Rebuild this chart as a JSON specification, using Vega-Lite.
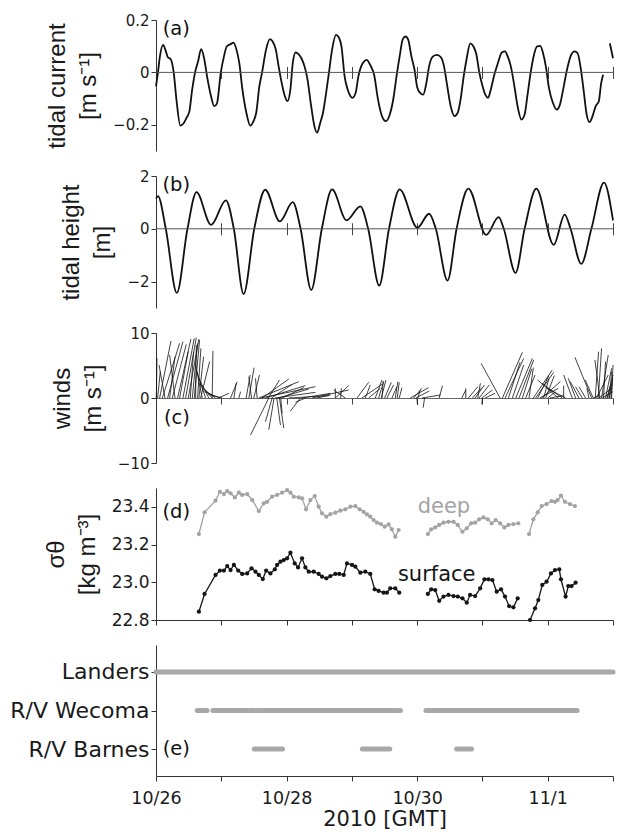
{
  "$schema": "https://vega.github.io/schema/vega-lite/v6.json",
  "background": "white",
  "padding": {"left": 9, "top": 13, "right": 2, "bottom": 2},
  "bounds": "flush",
  "spacing": 25,
  "resolve": {"scale": {"x": "independent"}},
  "config": {
    "view": {"stroke": null},
    "font": "DejaVu Sans",
    "axis": {
      "grid": false,
      "domainColor": "#333",
      "tickColor": "#333",
      "labelColor": "#1a1a1a",
      "titleColor": "#1a1a1a",
      "labelFont": "DejaVu Sans",
      "labelFontSize": 15,
      "labelOverlap": false,
      "titleFont": "Liberation Sans",
      "titleFontSize": 24,
      "titleFontWeight": "normal",
      "titleLineHeight": 31,
      "titlePadding": 12,
      "tickSize": 5,
      "labelPadding": 2
    },
    "text": {"font": "DejaVu Sans"}
  },
  "datasets": {
    "current": [
      {"day":0,"u":-0.053,"seg":1},{"day":0.03,"u":0,"seg":1},{"day":0.06,"u":0.061,"seg":1},{"day":0.108,"u":0.105,"seg":1},{"day":0.144,"u":0.086,"seg":1},{"day":0.181,"u":0.058,"seg":1},{"day":0.223,"u":0.051,"seg":1},{"day":0.271,"u":0,"seg":1},{"day":0.313,"u":-0.104,"seg":1},{"day":0.373,"u":-0.203,"seg":1},{"day":0.421,"u":-0.195,"seg":1},{"day":0.469,"u":-0.173,"seg":1},{"day":0.512,"u":-0.148,"seg":1},{"day":0.554,"u":-0.066,"seg":1},{"day":0.602,"u":0.004,"seg":1},{"day":0.644,"u":0.042,"seg":1},{"day":0.692,"u":0.089,"seg":1},{"day":0.734,"u":0.058,"seg":1},{"day":0.782,"u":-0.015,"seg":1},{"day":0.843,"u":-0.091,"seg":1},{"day":0.891,"u":-0.129,"seg":1},{"day":0.933,"u":-0.119,"seg":1},{"day":0.993,"u":0,"seg":1},{"day":1.041,"u":0.061,"seg":1},{"day":1.083,"u":0.099,"seg":1},{"day":1.144,"u":0.108,"seg":1},{"day":1.186,"u":0.114,"seg":1},{"day":1.234,"u":0.086,"seg":1},{"day":1.276,"u":0.035,"seg":1},{"day":1.324,"u":-0.066,"seg":1},{"day":1.384,"u":-0.154,"seg":1},{"day":1.444,"u":-0.203,"seg":1},{"day":1.493,"u":-0.186,"seg":1},{"day":1.535,"u":-0.154,"seg":1},{"day":1.583,"u":-0.053,"seg":1},{"day":1.625,"u":0,"seg":1},{"day":1.685,"u":0.086,"seg":1},{"day":1.745,"u":0.127,"seg":1},{"day":1.787,"u":0.118,"seg":1},{"day":1.836,"u":0.086,"seg":1},{"day":1.878,"u":0.023,"seg":1},{"day":1.926,"u":-0.041,"seg":1},{"day":1.974,"u":-0.091,"seg":1},{"day":2.016,"u":-0.11,"seg":1},{"day":2.058,"u":-0.066,"seg":1},{"day":2.095,"u":0.035,"seg":1},{"day":2.137,"u":0.076,"seg":1},{"day":2.179,"u":0.071,"seg":1},{"day":2.227,"u":0.054,"seg":1},{"day":2.275,"u":0.023,"seg":1},{"day":2.317,"u":-0.022,"seg":1},{"day":2.377,"u":-0.129,"seg":1},{"day":2.426,"u":-0.205,"seg":1},{"day":2.468,"u":-0.23,"seg":1},{"day":2.516,"u":-0.192,"seg":1},{"day":2.558,"u":-0.154,"seg":1},{"day":2.606,"u":-0.078,"seg":1},{"day":2.648,"u":-0.003,"seg":1},{"day":2.697,"u":0.086,"seg":1},{"day":2.757,"u":0.143,"seg":1},{"day":2.799,"u":0.134,"seg":1},{"day":2.841,"u":0.099,"seg":1},{"day":2.889,"u":-0.015,"seg":1},{"day":2.937,"u":-0.066,"seg":1},{"day":2.979,"u":-0.091,"seg":1},{"day":3.01,"u":-0.097,"seg":1},{"day":3.058,"u":-0.078,"seg":1},{"day":3.1,"u":-0.015,"seg":1},{"day":3.142,"u":0.023,"seg":1},{"day":3.19,"u":0.042,"seg":1},{"day":3.226,"u":0.048,"seg":1},{"day":3.28,"u":0.029,"seg":1},{"day":3.341,"u":-0.009,"seg":1},{"day":3.401,"u":-0.104,"seg":1},{"day":3.461,"u":-0.167,"seg":1},{"day":3.521,"u":-0.186,"seg":1},{"day":3.581,"u":-0.161,"seg":1},{"day":3.642,"u":-0.091,"seg":1},{"day":3.684,"u":-0.015,"seg":1},{"day":3.732,"u":0.061,"seg":1},{"day":3.78,"u":0.127,"seg":1},{"day":3.822,"u":0.137,"seg":1},{"day":3.864,"u":0.124,"seg":1},{"day":3.912,"u":0.061,"seg":1},{"day":3.96,"u":0.01,"seg":1},{"day":4.003,"u":-0.059,"seg":1},{"day":4.045,"u":-0.078,"seg":1},{"day":4.093,"u":-0.085,"seg":1},{"day":4.141,"u":-0.041,"seg":1},{"day":4.183,"u":0.023,"seg":1},{"day":4.243,"u":0.061,"seg":1},{"day":4.304,"u":0.067,"seg":1},{"day":4.364,"u":0.058,"seg":1},{"day":4.412,"u":0.023,"seg":1},{"day":4.454,"u":-0.041,"seg":1},{"day":4.514,"u":-0.129,"seg":1},{"day":4.574,"u":-0.167,"seg":1},{"day":4.622,"u":-0.154,"seg":1},{"day":4.665,"u":-0.104,"seg":1},{"day":4.713,"u":-0.015,"seg":1},{"day":4.755,"u":0.048,"seg":1},{"day":4.815,"u":0.111,"seg":1},{"day":4.863,"u":0.099,"seg":1},{"day":4.905,"u":0.071,"seg":1},{"day":4.954,"u":-0.003,"seg":1},{"day":4.996,"u":-0.047,"seg":1},{"day":5.044,"u":-0.085,"seg":1},{"day":5.086,"u":-0.097,"seg":1},{"day":5.128,"u":-0.066,"seg":1},{"day":5.176,"u":-0.015,"seg":1},{"day":5.236,"u":0.035,"seg":1},{"day":5.297,"u":0.076,"seg":1},{"day":5.345,"u":0.08,"seg":1},{"day":5.387,"u":0.061,"seg":1},{"day":5.435,"u":0.023,"seg":1},{"day":5.49,"u":-0.053,"seg":1},{"day":5.538,"u":-0.129,"seg":1},{"day":5.598,"u":-0.18,"seg":1},{"day":5.646,"u":-0.161,"seg":1},{"day":5.688,"u":-0.091,"seg":1},{"day":5.73,"u":-0.015,"seg":1},{"day":5.778,"u":0.054,"seg":1},{"day":5.838,"u":0.099,"seg":1},{"day":5.886,"u":0.101,"seg":1},{"day":5.929,"u":0.073,"seg":1},{"day":5.971,"u":0.023,"seg":1},{"day":6.019,"u":-0.059,"seg":1},{"day":6.079,"u":-0.116,"seg":1},{"day":6.139,"u":-0.142,"seg":1},{"day":6.187,"u":-0.123,"seg":1},{"day":6.236,"u":-0.066,"seg":1},{"day":6.29,"u":0.004,"seg":1},{"day":6.35,"u":0.061,"seg":1},{"day":6.41,"u":0.08,"seg":1},{"day":6.458,"u":0.073,"seg":1},{"day":6.501,"u":0.023,"seg":1},{"day":6.549,"u":-0.066,"seg":1},{"day":6.597,"u":-0.161,"seg":1},{"day":6.639,"u":-0.19,"seg":1},{"day":6.687,"u":-0.167,"seg":1},{"day":6.735,"u":-0.129,"seg":1},{"day":6.783,"u":-0.11,"seg":1},{"day":6.819,"u":-0.041,"seg":1},{"day":6.849,"u":-0.009,"seg":1},
      {"day":6.952,"u":0.111,"seg":2},{"day":7.0,"u":0.054,"seg":2}
    ],
    "tide": [
      {"day":0,"h":1.14},{"day":0.03,"h":1.24},{"day":0.15,"h":0},{"day":0.319,"h":-2.43},{"day":0.482,"h":0},{"day":0.62,"h":1.39},{"day":0.843,"h":0.15},{"day":1.071,"h":1.08},{"day":1.192,"h":0},{"day":1.342,"h":-2.47},{"day":1.505,"h":0},{"day":1.673,"h":1.48},{"day":1.896,"h":0.28},{"day":2.095,"h":1.01},{"day":2.215,"h":0},{"day":2.378,"h":-2.32},{"day":2.54,"h":0},{"day":2.697,"h":1.49},{"day":2.919,"h":0.32},{"day":3.13,"h":0.85},{"day":3.25,"h":0},{"day":3.419,"h":-2.15},{"day":3.569,"h":0},{"day":3.732,"h":1.49},{"day":4.003,"h":0.04},{"day":4.183,"h":0.57},{"day":4.286,"h":0},{"day":4.466,"h":-1.96},{"day":4.604,"h":0},{"day":4.785,"h":1.52},{"day":5.056,"h":-0.23},{"day":5.249,"h":0.44},{"day":5.327,"h":0},{"day":5.507,"h":-1.67},{"day":5.646,"h":0},{"day":5.826,"h":1.52},{"day":6.091,"h":-0.61},{"day":6.26,"h":0.54},{"day":6.35,"h":0},{"day":6.514,"h":-1.33},{"day":6.669,"h":0},{"day":6.862,"h":1.75},{"day":7.0,"h":0.32}
    ],
    "wind": [
      {"t":0.005,"t2":0.015,"w":6.1},{"t":0.025,"t2":0.066,"w":4.05},{"t":0.056,"t2":0.229,"w":8.77},{"t":0.097,"t2":0.362,"w":8.41},{"t":0.138,"t2":0.046,"w":5.08},{"t":0.178,"t2":0.413,"w":8.67},{"t":0.209,"t2":0.291,"w":6.36},{"t":0.25,"t2":0.464,"w":8.26},{"t":0.291,"t2":0.209,"w":6.62},{"t":0.331,"t2":0.535,"w":9.08},{"t":0.362,"t2":0.494,"w":7.13},{"t":0.413,"t2":0.586,"w":9.18},{"t":0.454,"t2":0.617,"w":9.28},{"t":0.494,"t2":0.657,"w":9.08},{"t":0.525,"t2":0.576,"w":7.13},{"t":0.556,"t2":0.637,"w":8.41},{"t":0.586,"t2":0.668,"w":8.92},{"t":0.607,"t2":0.617,"w":8.15},{"t":0.637,"t2":0.688,"w":7.64},{"t":0.657,"t2":0.729,"w":6.36},{"t":0.683,"t2":0.821,"w":5.59},{"t":0.861,"t2":0.872,"w":7.23},{"t":0.708,"t2":0.607,"w":5.08},{"t":0.759,"t2":0.627,"w":4.05},{"t":0.81,"t2":0.647,"w":3.13},{"t":0.861,"t2":0.668,"w":2.26},{"t":0.912,"t2":0.698,"w":1.59},{"t":0.974,"t2":0.739,"w":0.97},{"t":1.014,"t2":0.8,"w":0.56},{"t":0.953,"t2":1.116,"w":0.72},{"t":1.142,"t2":1.244,"w":2.51},{"t":1.193,"t2":1.228,"w":2.26},{"t":1.269,"t2":1.295,"w":0.97},{"t":1.381,"t2":1.442,"w":3.54},{"t":1.422,"t2":1.503,"w":4.67},{"t":1.463,"t2":1.422,"w":3.28},{"t":1.498,"t2":1.585,"w":3.54},{"t":1.549,"t2":1.524,"w":3.03},{"t":1.575,"t2":2.187,"w":2.51},{"t":1.6,"t2":2.441,"w":1.74},{"t":1.626,"t2":2.034,"w":2.92},{"t":1.677,"t2":2.288,"w":1.9},{"t":1.718,"t2":1.891,"w":2.77},{"t":1.769,"t2":2.085,"w":2.1},{"t":1.82,"t2":2.441,"w":0.87},{"t":1.871,"t2":2.339,"w":1.38},{"t":1.932,"t2":2.263,"w":1.59},{"t":2.034,"t2":2.645,"w":0.36},{"t":1.728,"t2":1.448,"w":-5.69},{"t":1.779,"t2":1.677,"w":-3.64},{"t":1.809,"t2":1.728,"w":-4.87},{"t":1.891,"t2":1.957,"w":-4.62},{"t":1.911,"t2":1.932,"w":-2.36},{"t":1.85,"t2":1.906,"w":-4.15},{"t":2.212,"t2":2.059,"w":-2.0},{"t":2.288,"t2":2.136,"w":-0.67},{"t":2.238,"t2":2.671,"w":0.72},{"t":2.39,"t2":2.951,"w":1.23},{"t":2.467,"t2":2.671,"w":0.46},{"t":2.747,"t2":2.951,"w":1.9},{"t":2.747,"t2":2.747,"w":1.49},{"t":2.829,"t2":2.839,"w":1.49},{"t":2.9,"t2":2.722,"w":1.23},{"t":3.078,"t2":3.257,"w":2.41},{"t":3.155,"t2":3.461,"w":2.1},{"t":3.257,"t2":3.435,"w":1.49},{"t":3.359,"t2":3.461,"w":2.77},{"t":3.41,"t2":3.486,"w":2.51},{"t":3.461,"t2":3.481,"w":2.62},{"t":3.206,"t2":3.282,"w":2.0},
      {"t":3.451,"t2":3.522,"w":2.77},{"t":3.502,"t2":3.603,"w":2.41},{"t":3.537,"t2":3.639,"w":2.0},{"t":3.614,"t2":3.69,"w":1.74},{"t":3.665,"t2":3.705,"w":2.51},{"t":3.695,"t2":3.726,"w":2.41},{"t":3.726,"t2":3.767,"w":1.59},{"t":3.894,"t2":4.174,"w":1.59},{"t":3.945,"t2":4.072,"w":1.49},{"t":3.981,"t2":4.185,"w":1.08},{"t":4.011,"t2":4.047,"w":1.23},{"t":4.072,"t2":4.358,"w":0.46},{"t":4.337,"t2":4.388,"w":1.9},{"t":3.996,"t2":4.006,"w":-1.08},{"t":4.113,"t2":4.093,"w":-1.49},{"t":4.684,"t2":4.745,"w":1.23},{"t":4.745,"t2":4.745,"w":1.49},{"t":4.786,"t2":4.929,"w":1.74},{"t":4.847,"t2":4.99,"w":1.59},{"t":4.888,"t2":5.031,"w":2.0},{"t":4.929,"t2":4.969,"w":2.26},{"t":4.949,"t2":5.102,"w":2.0},{"t":4.99,"t2":5.153,"w":1.23},{"t":5.0,"t2":4.99,"w":-0.97},{"t":5.041,"t2":5.194,"w":0.72},{"t":5.27,"t2":4.98,"w":5.33},{"t":5.306,"t2":5.612,"w":7.03},{"t":5.347,"t2":5.632,"w":6.1},{"t":5.398,"t2":5.576,"w":5.49},{"t":5.459,"t2":5.632,"w":5.08},{"t":5.51,"t2":5.765,"w":6.1},{"t":5.561,"t2":5.785,"w":5.85},{"t":5.612,"t2":5.754,"w":4.46},{"t":5.663,"t2":5.806,"w":3.54},{"t":5.714,"t2":5.78,"w":4.67},{"t":5.78,"t2":6.07,"w":4.31},{"t":5.815,"t2":6.091,"w":3.95},{"t":5.846,"t2":6.019,"w":3.44},{"t":5.877,"t2":6.162,"w":1.49},{"t":5.907,"t2":6.193,"w":2.51},{"t":5.938,"t2":6.019,"w":3.03},{"t":5.968,"t2":6.101,"w":3.44},{"t":5.999,"t2":6.121,"w":0.97},{"t":6.03,"t2":6.244,"w":0.36},{"t":6.162,"t2":5.846,"w":2.77},{"t":6.223,"t2":5.907,"w":2.26},{"t":6.274,"t2":5.989,"w":1.49},{"t":6.244,"t2":6.244,"w":1.9},{"t":6.376,"t2":6.244,"w":3.54},{"t":6.427,"t2":6.315,"w":3.03},{"t":6.478,"t2":6.346,"w":2.51},{"t":6.529,"t2":6.427,"w":1.74},{"t":6.672,"t2":6.417,"w":6.26},{"t":6.58,"t2":6.478,"w":1.74},{"t":6.631,"t2":6.6,"w":1.49},{"t":6.728,"t2":6.779,"w":7.13},{"t":6.774,"t2":6.825,"w":7.64},{"t":6.799,"t2":6.723,"w":5.85},{"t":6.825,"t2":6.927,"w":6.62},{"t":6.855,"t2":6.886,"w":5.59},{"t":6.886,"t2":6.978,"w":4.56},{"t":6.907,"t2":7.0,"w":3.54},{"t":6.937,"t2":6.998,"w":3.03},{"t":6.968,"t2":6.988,"w":2.41},{"t":6.978,"t2":7.0,"w":5.08},{"t":6.748,"t2":6.927,"w":3.54},{"t":6.784,"t2":6.978,"w":1.49},{"t":6.835,"t2":6.998,"w":0.97},{"t":6.702,"t2":6.784,"w":0.46},{"t":6.917,"t2":6.957,"w":1.74},{"t":6.948,"t2":6.978,"w":4.05},{"t":6.697,"t2":6.575,"w":2.77}
    ],
    "sigma": [
      {"day":0.657,"s":23.256,"depth":"deep","seg":1},{"day":0.744,"s":23.371,"depth":"deep","seg":1},{"day":0.912,"s":23.433,"depth":"deep","seg":1},{"day":0.979,"s":23.48,"depth":"deep","seg":1},{"day":1.04,"s":23.468,"depth":"deep","seg":1},{"day":1.091,"s":23.484,"depth":"deep","seg":1},{"day":1.142,"s":23.472,"depth":"deep","seg":1},{"day":1.208,"s":23.45,"depth":"deep","seg":1},{"day":1.269,"s":23.475,"depth":"deep","seg":1},{"day":1.32,"s":23.463,"depth":"deep","seg":1},{"day":1.396,"s":23.468,"depth":"deep","seg":1},{"day":1.473,"s":23.436,"depth":"deep","seg":1},{"day":1.575,"s":23.378,"depth":"deep","seg":1},{"day":1.651,"s":23.419,"depth":"deep","seg":1},{"day":1.702,"s":23.427,"depth":"deep","seg":1},{"day":1.779,"s":23.454,"depth":"deep","seg":1},{"day":1.855,"s":23.463,"depth":"deep","seg":1},{"day":1.932,"s":23.475,"depth":"deep","seg":1},{"day":2.008,"s":23.489,"depth":"deep","seg":1},{"day":2.059,"s":23.475,"depth":"deep","seg":1},{"day":2.11,"s":23.454,"depth":"deep","seg":1},{"day":2.187,"s":23.45,"depth":"deep","seg":1},{"day":2.237,"s":23.445,"depth":"deep","seg":1},{"day":2.298,"s":23.387,"depth":"deep","seg":1},{"day":2.365,"s":23.436,"depth":"deep","seg":1},{"day":2.431,"s":23.457,"depth":"deep","seg":1},{"day":2.492,"s":23.401,"depth":"deep","seg":1},{"day":2.543,"s":23.366,"depth":"deep","seg":1},{"day":2.61,"s":23.348,"depth":"deep","seg":1},{"day":2.671,"s":23.362,"depth":"deep","seg":1},{"day":2.747,"s":23.369,"depth":"deep","seg":1},{"day":2.824,"s":23.38,"depth":"deep","seg":1},{"day":2.9,"s":23.387,"depth":"deep","seg":1},{"day":2.977,"s":23.401,"depth":"deep","seg":1},{"day":3.053,"s":23.404,"depth":"deep","seg":1},{"day":3.119,"s":23.387,"depth":"deep","seg":1},{"day":3.18,"s":23.374,"depth":"deep","seg":1},{"day":3.231,"s":23.36,"depth":"deep","seg":1},{"day":3.282,"s":23.348,"depth":"deep","seg":1},{"day":3.333,"s":23.33,"depth":"deep","seg":1},{"day":3.384,"s":23.316,"depth":"deep","seg":1},{"day":3.445,"s":23.309,"depth":"deep","seg":1},{"day":3.502,"s":23.295,"depth":"deep","seg":1},{"day":3.563,"s":23.307,"depth":"deep","seg":1},{"day":3.613,"s":23.281,"depth":"deep","seg":1},{"day":3.665,"s":23.242,"depth":"deep","seg":1},{"day":3.716,"s":23.277,"depth":"deep","seg":1},
      {"day":4.164,"s":23.256,"depth":"deep","seg":2},{"day":4.215,"s":23.281,"depth":"deep","seg":2},{"day":4.277,"s":23.291,"depth":"deep","seg":2},{"day":4.338,"s":23.304,"depth":"deep","seg":2},{"day":4.404,"s":23.316,"depth":"deep","seg":2},{"day":4.48,"s":23.321,"depth":"deep","seg":2},{"day":4.557,"s":23.321,"depth":"deep","seg":2},{"day":4.622,"s":23.304,"depth":"deep","seg":2},{"day":4.694,"s":23.268,"depth":"deep","seg":2},{"day":4.76,"s":23.286,"depth":"deep","seg":2},{"day":4.827,"s":23.313,"depth":"deep","seg":2},{"day":4.888,"s":23.316,"depth":"deep","seg":2},{"day":4.949,"s":23.334,"depth":"deep","seg":2},{"day":5.015,"s":23.344,"depth":"deep","seg":2},{"day":5.081,"s":23.334,"depth":"deep","seg":2},{"day":5.142,"s":23.313,"depth":"deep","seg":2},{"day":5.203,"s":23.33,"depth":"deep","seg":2},{"day":5.271,"s":23.313,"depth":"deep","seg":2},{"day":5.336,"s":23.291,"depth":"deep","seg":2},{"day":5.398,"s":23.304,"depth":"deep","seg":2},{"day":5.474,"s":23.309,"depth":"deep","seg":2},{"day":5.55,"s":23.313,"depth":"deep","seg":2},
      {"day":5.714,"s":23.256,"depth":"deep","seg":3},{"day":5.78,"s":23.334,"depth":"deep","seg":3},{"day":5.846,"s":23.371,"depth":"deep","seg":3},{"day":5.907,"s":23.404,"depth":"deep","seg":3},{"day":5.983,"s":23.415,"depth":"deep","seg":3},{"day":6.06,"s":23.431,"depth":"deep","seg":3},{"day":6.111,"s":23.427,"depth":"deep","seg":3},{"day":6.152,"s":23.436,"depth":"deep","seg":3},{"day":6.203,"s":23.459,"depth":"deep","seg":3},{"day":6.264,"s":23.427,"depth":"deep","seg":3},{"day":6.341,"s":23.415,"depth":"deep","seg":3},{"day":6.417,"s":23.404,"depth":"deep","seg":3},
      {"day":0.657,"s":22.844,"depth":"surface","seg":1},{"day":0.744,"s":22.938,"depth":"surface","seg":1},{"day":0.912,"s":23.039,"depth":"surface","seg":1},{"day":0.979,"s":23.062,"depth":"surface","seg":1},{"day":1.04,"s":23.062,"depth":"surface","seg":1},{"day":1.091,"s":23.086,"depth":"surface","seg":1},{"day":1.142,"s":23.065,"depth":"surface","seg":1},{"day":1.193,"s":23.092,"depth":"surface","seg":1},{"day":1.259,"s":23.062,"depth":"surface","seg":1},{"day":1.32,"s":23.044,"depth":"surface","seg":1},{"day":1.396,"s":23.047,"depth":"surface","seg":1},{"day":1.463,"s":23.074,"depth":"surface","seg":1},{"day":1.524,"s":23.056,"depth":"surface","seg":1},{"day":1.575,"s":23.039,"depth":"surface","seg":1},{"day":1.636,"s":23.017,"depth":"surface","seg":1},{"day":1.687,"s":23.062,"depth":"surface","seg":1},{"day":1.753,"s":23.047,"depth":"surface","seg":1},{"day":1.82,"s":23.069,"depth":"surface","seg":1},{"day":1.855,"s":23.092,"depth":"surface","seg":1},{"day":1.906,"s":23.109,"depth":"surface","seg":1},{"day":1.957,"s":23.118,"depth":"surface","seg":1},{"day":2.008,"s":23.127,"depth":"surface","seg":1},{"day":2.059,"s":23.157,"depth":"surface","seg":1},{"day":2.125,"s":23.1,"depth":"surface","seg":1},{"day":2.176,"s":23.079,"depth":"surface","seg":1},{"day":2.237,"s":23.127,"depth":"surface","seg":1},{"day":2.288,"s":23.079,"depth":"surface","seg":1},{"day":2.339,"s":23.056,"depth":"surface","seg":1},{"day":2.416,"s":23.056,"depth":"surface","seg":1},{"day":2.492,"s":23.044,"depth":"surface","seg":1},{"day":2.543,"s":23.03,"depth":"surface","seg":1},{"day":2.61,"s":23.021,"depth":"surface","seg":1},{"day":2.671,"s":23.033,"depth":"surface","seg":1},{"day":2.747,"s":23.044,"depth":"surface","seg":1},{"day":2.808,"s":23.044,"depth":"surface","seg":1},{"day":2.875,"s":23.039,"depth":"surface","seg":1},{"day":2.925,"s":23.1,"depth":"surface","seg":1},{"day":3.002,"s":23.092,"depth":"surface","seg":1},{"day":3.053,"s":23.083,"depth":"surface","seg":1},{"day":3.13,"s":23.051,"depth":"surface","seg":1},{"day":3.206,"s":23.056,"depth":"surface","seg":1},{"day":3.282,"s":23.044,"depth":"surface","seg":1},{"day":3.349,"s":22.963,"depth":"surface","seg":1},{"day":3.41,"s":22.954,"depth":"surface","seg":1},{"day":3.486,"s":22.945,"depth":"surface","seg":1},{"day":3.537,"s":22.945,"depth":"surface","seg":1},{"day":3.588,"s":22.968,"depth":"surface","seg":1},{"day":3.665,"s":22.968,"depth":"surface","seg":1},{"day":3.726,"s":22.945,"depth":"surface","seg":1},
      {"day":4.164,"s":22.938,"depth":"surface","seg":2},{"day":4.215,"s":22.963,"depth":"surface","seg":2},{"day":4.277,"s":22.959,"depth":"surface","seg":2},{"day":4.338,"s":22.902,"depth":"surface","seg":2},{"day":4.404,"s":22.924,"depth":"surface","seg":2},{"day":4.48,"s":22.933,"depth":"surface","seg":2},{"day":4.557,"s":22.927,"depth":"surface","seg":2},{"day":4.622,"s":22.924,"depth":"surface","seg":2},{"day":4.694,"s":22.915,"depth":"surface","seg":2},{"day":4.76,"s":22.892,"depth":"surface","seg":2},{"day":4.811,"s":22.933,"depth":"surface","seg":2},{"day":4.888,"s":22.927,"depth":"surface","seg":2},{"day":4.965,"s":22.968,"depth":"surface","seg":2},{"day":5.031,"s":23.016,"depth":"surface","seg":2},{"day":5.092,"s":23.016,"depth":"surface","seg":2},{"day":5.153,"s":23.012,"depth":"surface","seg":2},{"day":5.219,"s":22.95,"depth":"surface","seg":2},{"day":5.285,"s":22.963,"depth":"surface","seg":2},{"day":5.346,"s":22.924,"depth":"surface","seg":2},{"day":5.408,"s":22.874,"depth":"surface","seg":2},{"day":5.474,"s":22.867,"depth":"surface","seg":2},{"day":5.54,"s":22.915,"depth":"surface","seg":2},
      {"day":5.729,"s":22.8,"depth":"surface","seg":3},{"day":5.806,"s":22.862,"depth":"surface","seg":3},{"day":5.856,"s":22.906,"depth":"surface","seg":3},{"day":5.917,"s":22.986,"depth":"surface","seg":3},{"day":5.983,"s":23.003,"depth":"surface","seg":3},{"day":6.05,"s":23.047,"depth":"surface","seg":3},{"day":6.111,"s":23.065,"depth":"surface","seg":3},{"day":6.177,"s":23.069,"depth":"surface","seg":3},{"day":6.203,"s":23.016,"depth":"surface","seg":3},{"day":6.274,"s":22.924,"depth":"surface","seg":3},{"day":6.315,"s":22.98,"depth":"surface","seg":3},{"day":6.365,"s":22.98,"depth":"surface","seg":3},{"day":6.427,"s":22.998,"depth":"surface","seg":3}
    ],
    "platforms": [
      {"platform":"Landers","start":0,"end":7},
      {"platform":"R/V Wecoma","start":0.632,"end":0.664},
      {"platform":"R/V Wecoma","start":0.69,"end":0.782},
      {"platform":"R/V Wecoma","start":0.873,"end":1.505},
      {"platform":"R/V Wecoma","start":1.553,"end":3.611},
      {"platform":"R/V Wecoma","start":3.642,"end":3.744},
      {"platform":"R/V Wecoma","start":4.135,"end":4.45},
      {"platform":"R/V Wecoma","start":4.47,"end":4.66},
      {"platform":"R/V Wecoma","start":4.68,"end":6.1},
      {"platform":"R/V Wecoma","start":6.12,"end":6.22},
      {"platform":"R/V Wecoma","start":6.24,"end":6.31},
      {"platform":"R/V Wecoma","start":6.33,"end":6.45},
      {"platform":"R/V Barnes","start":1.505,"end":1.938},
      {"platform":"R/V Barnes","start":3.16,"end":3.581},
      {"platform":"R/V Barnes","start":4.605,"end":4.833}
    ]
  },
  "vconcat": [
    {
      "width": 457, "height": 131,
      "layer": [
        {
          "data": {"name": "current"},
          "mark": {"type": "line", "color": "#111", "strokeWidth": 1.8, "interpolate": "monotone"},
          "encoding": {
            "x": {"field": "day", "type": "quantitative", "scale": {"domain": [0, 7], "nice": false, "zero": false},
                  "axis": {"values": [0,1,2,3,4,5,6,7], "labels": false, "domain": false, "tickSize": 12, "offset": -84.6, "title": null, "tickColor": "#444"}},
            "y": {"field": "u", "type": "quantitative", "scale": {"domain": [-0.3, 0.2], "nice": false, "zero": false},
                  "axis": {"values": [-0.2, 0, 0.2], "format": "~g", "labelOverlap": false,
                           "title": ["tidal current", "[m s⁻¹]"]}},
            "detail": {"field": "seg"}
          }
        },
        {"data": {"values": [{}]}, "mark": {"type": "rule", "color": "#555", "strokeWidth": 1}, "encoding": {"y": {"datum": 0, "type": "quantitative"}}},
        {"data": {"values": [{}]}, "mark": {"type": "text", "fontSize": 19.5, "align": "center", "baseline": "middle", "color": "#111"},
         "encoding": {"x": {"datum": 0.31, "type": "quantitative"}, "y": {"datum": 0.167, "type": "quantitative"}, "text": {"value": "(a)"}}}
      ]
    },
    {
      "width": 457, "height": 132,
      "layer": [
        {
          "data": {"name": "tide"},
          "mark": {"type": "line", "color": "#111", "strokeWidth": 1.8, "interpolate": "monotone"},
          "encoding": {
            "x": {"field": "day", "type": "quantitative", "scale": {"domain": [0, 7], "nice": false, "zero": false},
                  "axis": {"values": [0,1,2,3,4,5,6,7], "labels": false, "domain": false, "tickSize": 12, "offset": -85.2, "title": null, "tickColor": "#444"}},
            "y": {"field": "h", "type": "quantitative", "scale": {"domain": [-3, 2], "nice": false, "zero": false},
                  "axis": {"values": [-2, 0, 2], "format": "d", "labelOverlap": false,
                           "title": ["tidal height", "[m]"]}}
          }
        },
        {"data": {"values": [{}]}, "mark": {"type": "rule", "color": "#555", "strokeWidth": 1}, "encoding": {"y": {"datum": 0, "type": "quantitative"}}},
        {"data": {"values": [{}]}, "mark": {"type": "text", "fontSize": 19.5, "align": "center", "baseline": "middle", "color": "#111"},
         "encoding": {"x": {"datum": 0.31, "type": "quantitative"}, "y": {"datum": 1.66, "type": "quantitative"}, "text": {"value": "(b)"}}}
      ]
    },
    {
      "width": 457, "height": 130,
      "layer": [
        {
          "data": {"name": "wind"},
          "mark": {"type": "rule", "color": "#111", "strokeWidth": 0.8},
          "encoding": {
            "x": {"field": "t2", "type": "quantitative", "scale": {"domain": [0, 7], "nice": false, "zero": false},
                  "axis": {"values": [0,1,2,3,4,5,6,7], "labels": false, "domain": true, "domainColor": "#666", "tickSize": 6, "offset": -65, "title": null, "tickColor": "#444"}},
            "x2": {"field": "t"},
            "y": {"field": "w", "type": "quantitative", "scale": {"domain": [-10, 10], "nice": false},
                  "axis": {"values": [-10,-5,0,5,10], "title": ["winds", "[m s⁻¹]"]}},
            "y2": {"datum": 0}
          }
        },
        {"data": {"values": [{}]}, "mark": {"type": "text", "fontSize": 19.5, "align": "center", "baseline": "middle", "color": "#111"},
         "encoding": {"x": {"datum": 0.32, "type": "quantitative"}, "y": {"datum": -3.08, "type": "quantitative"}, "text": {"value": "(c)"}}}
      ]
    },
    {
      "width": 457, "height": 132,
      "layer": [
        {
          "data": {"name": "sigma"},
          "mark": {"type": "line", "strokeWidth": 1.3, "point": {"filled": true, "size": 18}},
          "encoding": {
            "x": {"field": "day", "type": "quantitative", "scale": {"domain": [0, 7], "nice": false, "zero": false},
                  "axis": {"values": [0,1,2,3,4,5,6,7], "labels": false, "tickSize": 5, "title": null}},
            "y": {"field": "s", "type": "quantitative", "scale": {"domain": [22.8, 23.5], "nice": false, "zero": false},
                  "axis": {"values": [22.8,22.9,23.0,23.1,23.2,23.3,23.4,23.5], "labelFontSize": 17, "labelExpr": "round(datum.value*10) % 2 == 0 ? format(datum.value, '.1f') : ''", "title": ["σθ", "[kg m⁻³]"]}},
            "color": {"field": "depth", "type": "nominal", "scale": {"domain": ["deep", "surface"], "range": ["#a3a3a3", "#151515"]}, "legend": null},
            "detail": {"field": "seg"}
          }
        },
        {"data": {"values": [{}]}, "mark": {"type": "text", "fontSize": 19.5, "align": "center", "baseline": "middle", "color": "#111"},
         "encoding": {"x": {"datum": 0.31, "type": "quantitative"}, "y": {"datum": 23.375, "type": "quantitative"}, "text": {"value": "(d)"}}},
        {"data": {"values": [{}]}, "mark": {"type": "text", "fontSize": 21, "align": "center", "baseline": "middle", "color": "#a3a3a3"},
         "encoding": {"x": {"datum": 4.41, "type": "quantitative"}, "y": {"datum": 23.40, "type": "quantitative"}, "text": {"value": "deep"}}},
        {"data": {"values": [{}]}, "mark": {"type": "text", "fontSize": 21, "align": "center", "baseline": "middle", "color": "#151515"},
         "encoding": {"x": {"datum": 4.30, "type": "quantitative"}, "y": {"datum": 23.037, "type": "quantitative"}, "text": {"value": "surface"}}}
      ]
    },
    {
      "width": 457, "height": 131,
      "layer": [
        {
          "data": {"name": "platforms"},
          "mark": {"type": "rule", "color": "#a8a8a8", "strokeWidth": 5, "strokeCap": "round"},
          "encoding": {
            "x": {"field": "start", "type": "quantitative", "scale": {"domain": [0, 7], "nice": false, "zero": false},
                  "axis": {"values": [0,1,2,3,4,5,6,7], "labelExpr": "datum.value == 0 ? '10/26' : datum.value == 2 ? '10/28' : datum.value == 4 ? '10/30' : datum.value == 6 ? '11/1' : ''", "labelFlush": false, "labelFontSize": 17.5, "labelPadding": 8, "tickSize": 5, "title": "2010 [GMT]", "titleFont": "DejaVu Sans", "titleFontSize": 21, "titlePadding": 2}},
            "x2": {"field": "end"},
            "y": {"field": "platform", "type": "nominal", "scale": {"type": "point", "domain": ["Landers", "R/V Wecoma", "R/V Barnes"], "padding": 0.7},
                  "axis": {"title": null, "labelFontSize": 22, "tickSize": 5, "labelPadding": 2}}
          }
        },
        {"data": {"values": [{}]}, "mark": {"type": "text", "fontSize": 19.5, "align": "center", "baseline": "middle", "color": "#111"},
         "encoding": {"x": {"datum": 0.31, "type": "quantitative"}, "y": {"datum": "R/V Barnes", "type": "nominal"}, "text": {"value": "(e)"}}}
      ]
    }
  ]
}
